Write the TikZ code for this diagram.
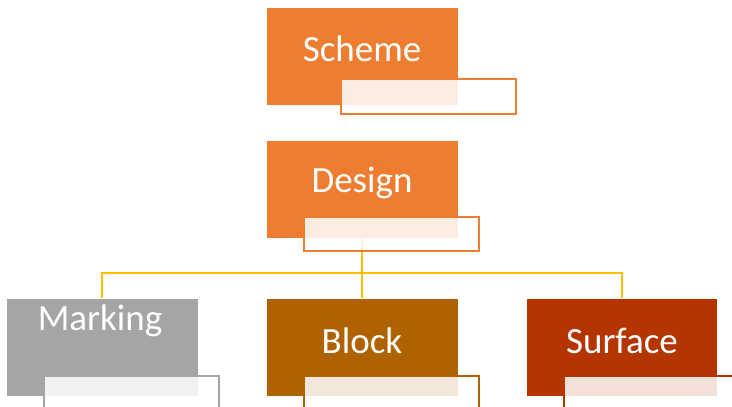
\documentclass[tikz,border=0pt]{standalone}
\usepackage{fontspec}
\setmainfont{Carlito}
\definecolor{orangeA}{HTML}{ED7D31}
\definecolor{greyA}{HTML}{A5A5A5}
\definecolor{brownA}{HTML}{AF6200}
\definecolor{rustA}{HTML}{B43500}
\definecolor{yellowA}{HTML}{FFC000}
\begin{document}
\begin{tikzpicture}[x=1pt,y=-1pt,
  subbox/.style={draw=#1,line width=2.2pt,fill=white,fill opacity=0.85,draw opacity=1},
  lbl/.style={text=white,font=\fontsize{37}{44}\selectfont},
  conn/.style={draw=yellowA,line width=2.4pt}]
\useasboundingbox (0,0) rectangle (732,407);
% main boxes
\fill[orangeA] (267,8) rectangle (458,105);
\fill[orangeA] (267,141) rectangle (458,238);
\fill[greyA] (7,299) rectangle (198,396);
\fill[brownA] (267,299) rectangle (458,396);
\fill[rustA] (527,299) rectangle (717,396);
\coordinate (dtop) at (362,238);
\coordinate (jn) at (362,273);
\coordinate (mL) at (102,273);
\coordinate (mR) at (622,273);
\coordinate (mB) at (102,298);
\coordinate (bB) at (362,298);
\coordinate (sB) at (622,298);
% connectors
\draw[conn] (dtop) -- (jn);
\draw[conn] (mB) -- (mL) -- (mR) -- (sB);
\draw[conn] (jn) -- (bB);
% sub boxes
\draw[subbox=orangeA] (341,79) rectangle (516,114);
\draw[subbox=orangeA] (304,217) rectangle (479,251);
\draw[subbox=greyA] (44,376) rectangle (219,420);
\draw[subbox=brownA] (304,376) rectangle (479,420);
\draw[subbox=rustA] (564,376) rectangle (740,420);
% labels
\node[lbl] (scheme) at (362,49) {Scheme};
\node[lbl] (design) at (362,183) {Design};
\node[lbl] (marking) at (100,321) {Marking};
\node[lbl] (block) at (362,341) {Block};
\node[lbl] (surface) at (622,341) {Surface};
\end{tikzpicture}
\end{document}
